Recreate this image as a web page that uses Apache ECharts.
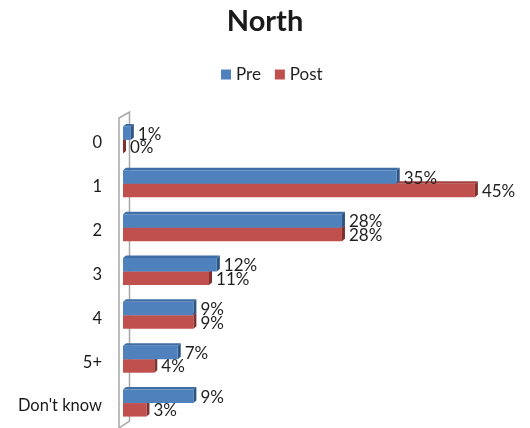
<!DOCTYPE html>
<html>
<head>
<meta charset="utf-8">
<script src="https://cdn.jsdelivr.net/npm/echarts@6/dist/echarts.min.js"></script>
<style>html,body{margin:0;padding:0;background:#fff}#c{width:530px;height:428px}</style>
</head>
<body>
<div id="c"></div>
<script>
const categories = ['0', '1', '2', '3', '4', '5+', "Don't know"];
const preValues = [1, 35, 28, 12, 9, 7, 9];
const postValues = [0, 45, 28, 11, 9, 4, 3];
const seriesNames = ['Pre', 'Post'];

const colors = {
  Pre: {front: '#4f81bd', top: '#3f6ea6', side: '#2f5585'},
  Post: {front: '#c0504d', top: '#a5413e', side: '#80302e'}
};
const BAR_H = 13.5, DX = 3, DY = 2.5, SHIFT = -3;

function makeRender(name) {
  return function (params, api) {
    const cat = api.value(0), val = api.value(1);
    const s = api.coord([0, cat]);
    const e = api.coord([val, cat]);
    const yc = s[1] + SHIFT;
    const y0 = name === 'Pre' ? yc - BAR_H : yc;
    const x = s[0], w = e[0] - s[0], h = BAR_H;
    const c = colors[name];
    return {
      type: 'group',
      children: [
        {type: 'polygon', shape: {points: [[x, y0], [x + DX, y0 - DY], [x + w + DX, y0 - DY], [x + w, y0]]}, style: {fill: c.top}},
        {type: 'polygon', shape: {points: [[x + w, y0], [x + w + DX, y0 - DY], [x + w + DX, y0 + h - DY], [x + w, y0 + h]]}, style: {fill: c.side}},
        {type: 'rect', shape: {x: x, y: y0, width: w, height: h}, style: {fill: c.front}},
        {type: 'text', x: x + w + DX + 4, y: y0 + h / 2 + 1, style: {text: val + '%', fill: '#1f1f1f', font: '17px Lato', textVerticalAlign: 'middle', textAlign: 'left'}}
      ]
    };
  };
}

const chart = echarts.init(document.getElementById('c'));
chart.setOption({
  animation: false,
  backgroundColor: '#fff',
  title: {text: 'North', left: 'center', top: 2, textStyle: {fontFamily: 'Lato', fontWeight: 'bold', fontSize: 29, color: '#1a1a1a'}},
  legend: {data: seriesNames, top: 61, left: 216, icon: 'rect', itemWidth: 10, itemHeight: 10, itemGap: 14,
    textStyle: {fontFamily: 'Lato', fontSize: 17, color: '#1f1f1f', padding: [0, 0, 0, 0]}},
  grid: {left: 123, top: 121, width: 391, height: 307},
  xAxis: {type: 'value', min: 0, max: 50, show: false},
  yAxis: {type: 'category', data: categories, inverse: true,
    axisLine: {show: false}, axisTick: {show: false}, splitLine: {show: false},
    axisLabel: {fontFamily: 'Lato', fontSize: 16.5, color: '#1a1a1a', margin: 21}},
  graphic: [{
    type: 'polyline', z: 0,
    shape: {points: [[119, 428], [119, 118], [129.5, 112], [129.5, 421], [119, 428]]},
    style: {stroke: '#a6a6a6', lineWidth: 1.5, fill: null}
  }],
  series: [
    {name: 'Post', type: 'custom', z: 3, itemStyle: {color: colors.Post.front}, renderItem: makeRender('Post'),
      data: postValues.map((v, i) => [i, v]), encode: {x: 1, y: 0}},
    {name: 'Pre', type: 'custom', z: 4, itemStyle: {color: colors.Pre.front}, renderItem: makeRender('Pre'),
      data: preValues.map((v, i) => [i, v]), encode: {x: 1, y: 0}}
  ]
});
</script>
</body>
</html>
